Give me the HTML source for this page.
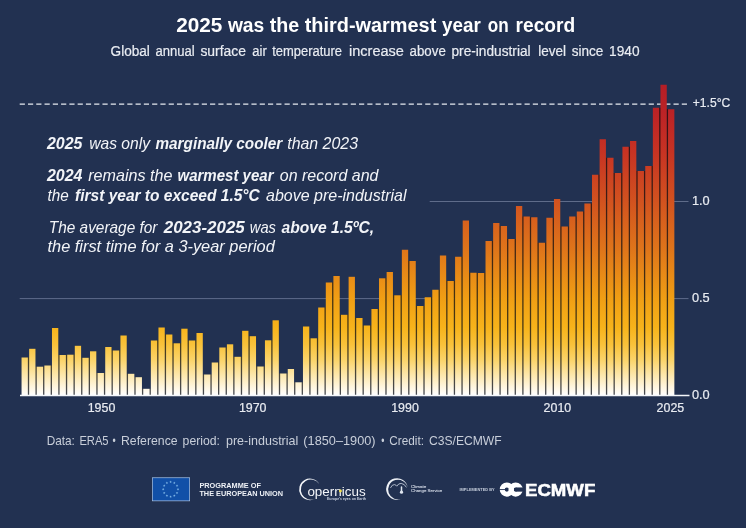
<!DOCTYPE html>
<html lang="en"><head><meta charset="utf-8"><title>2025 was the third-warmest year on record</title>
<style>html,body{margin:0;padding:0;background:#223151;}body{width:746px;height:528px;overflow:hidden;}svg{display:block;}text{font-family:"Liberation Sans",Arial,sans-serif;}.an{font-style:italic;font-size:16.2px;fill:#f2f4f8;}.b{font-weight:bold;}.ax{font-size:13.2px;fill:#e8ebf1;stroke:#e8ebf1;stroke-width:0.22px;}</style></head><body>
<svg width="746" height="528" viewBox="0 0 746 528">
<defs><linearGradient id="g" gradientUnits="userSpaceOnUse" x1="0" y1="395.00" x2="0" y2="80.88">
<stop offset="0.0000" stop-color="#ffffff"/>
<stop offset="0.0247" stop-color="#fff6e0"/>
<stop offset="0.0617" stop-color="#fde8ae"/>
<stop offset="0.1111" stop-color="#fbd46a"/>
<stop offset="0.1605" stop-color="#f9c23a"/>
<stop offset="0.2160" stop-color="#f7b31a"/>
<stop offset="0.3086" stop-color="#f09e14"/>
<stop offset="0.4630" stop-color="#df751a"/>
<stop offset="0.6173" stop-color="#d2521f"/>
<stop offset="0.7716" stop-color="#c73323"/>
<stop offset="0.8951" stop-color="#bc2326"/>
<stop offset="1.0000" stop-color="#b31d26"/>
</linearGradient>
<linearGradient id="gd" gradientUnits="userSpaceOnUse" x1="0" y1="395.00" x2="0" y2="80.88">
<stop offset="0.0000" stop-color="#494c51"/>
<stop offset="0.0247" stop-color="#494948"/>
<stop offset="0.0617" stop-color="#49453b"/>
<stop offset="0.1111" stop-color="#484028"/>
<stop offset="0.1605" stop-color="#483b1b"/>
<stop offset="0.2160" stop-color="#473713"/>
<stop offset="0.3086" stop-color="#453211"/>
<stop offset="0.4630" stop-color="#412613"/>
<stop offset="0.6173" stop-color="#3d1d14"/>
<stop offset="0.7716" stop-color="#3a1515"/>
<stop offset="0.8951" stop-color="#371016"/>
<stop offset="1.0000" stop-color="#350f16"/>
</linearGradient></defs>
<rect width="746" height="528" fill="#223151"/>
<g font-size="20.3" fill="#ffffff" font-weight="bold">
<text x="176.20" y="31.70" textLength="46.20" lengthAdjust="spacingAndGlyphs">2025</text>
<text x="227.90" y="31.70" textLength="36.40" lengthAdjust="spacingAndGlyphs">was</text>
<text x="269.70" y="31.70" textLength="29.50" lengthAdjust="spacingAndGlyphs">the</text>
<text x="304.70" y="31.70" textLength="131.60" lengthAdjust="spacingAndGlyphs">third-warmest</text>
<text x="442.00" y="31.70" textLength="38.70" lengthAdjust="spacingAndGlyphs">year</text>
<text x="487.70" y="31.70" textLength="20.90" lengthAdjust="spacingAndGlyphs">on</text>
<text x="515.60" y="31.70" textLength="59.60" lengthAdjust="spacingAndGlyphs">record</text>
</g>
<g font-size="14.9" fill="#e9ecf2" stroke="#e9ecf2" stroke-width="0.2">
<text x="110.60" y="55.50" textLength="39.30" lengthAdjust="spacingAndGlyphs">Global</text>
<text x="155.40" y="55.50" textLength="39.20" lengthAdjust="spacingAndGlyphs">annual</text>
<text x="200.40" y="55.50" textLength="45.70" lengthAdjust="spacingAndGlyphs">surface</text>
<text x="252.30" y="55.50" textLength="14.50" lengthAdjust="spacingAndGlyphs">air</text>
<text x="272.20" y="55.50" textLength="69.90" lengthAdjust="spacingAndGlyphs">temperature</text>
<text x="349.00" y="55.50" textLength="54.90" lengthAdjust="spacingAndGlyphs">increase</text>
<text x="409.60" y="55.50" textLength="36.20" lengthAdjust="spacingAndGlyphs">above</text>
<text x="451.50" y="55.50" textLength="79.10" lengthAdjust="spacingAndGlyphs">pre-industrial</text>
<text x="538.20" y="55.50" textLength="27.80" lengthAdjust="spacingAndGlyphs">level</text>
<text x="571.70" y="55.50" textLength="31.70" lengthAdjust="spacingAndGlyphs">since</text>
<text x="609.10" y="55.50" textLength="30.50" lengthAdjust="spacingAndGlyphs">1940</text>
</g>
<line x1="19.7" x2="688.5" y1="298.6" y2="298.6" stroke="#6f7b99" stroke-width="0.8"/>
<line x1="429.7" x2="688.5" y1="201.5" y2="201.5" stroke="#6f7b99" stroke-width="0.8"/>
<line x1="19.7" x2="687" y1="104.2" y2="104.2" stroke="#e6eaf0" stroke-width="1.3" stroke-dasharray="5.2 3.076"/>
<g fill="url(#gd)">
<rect x="27.31" y="357.50" width="2.4" height="37.50"/>
<rect x="34.91" y="366.70" width="2.4" height="28.30"/>
<rect x="42.52" y="366.70" width="2.4" height="28.30"/>
<rect x="50.12" y="365.50" width="2.4" height="29.50"/>
<rect x="57.73" y="355.00" width="2.4" height="40.00"/>
<rect x="65.34" y="355.00" width="2.4" height="40.00"/>
<rect x="72.94" y="354.70" width="2.4" height="40.30"/>
<rect x="80.55" y="357.80" width="2.4" height="37.20"/>
<rect x="88.15" y="357.80" width="2.4" height="37.20"/>
<rect x="95.76" y="373.00" width="2.4" height="22.00"/>
<rect x="103.37" y="373.00" width="2.4" height="22.00"/>
<rect x="110.97" y="350.50" width="2.4" height="44.50"/>
<rect x="118.58" y="350.50" width="2.4" height="44.50"/>
<rect x="126.18" y="373.80" width="2.4" height="21.20"/>
<rect x="133.79" y="377.20" width="2.4" height="17.80"/>
<rect x="141.40" y="388.80" width="2.4" height="6.20"/>
<rect x="149.00" y="388.80" width="2.4" height="6.20"/>
<rect x="156.61" y="340.50" width="2.4" height="54.50"/>
<rect x="164.21" y="334.50" width="2.4" height="60.50"/>
<rect x="171.82" y="343.30" width="2.4" height="51.70"/>
<rect x="179.43" y="343.30" width="2.4" height="51.70"/>
<rect x="187.03" y="340.50" width="2.4" height="54.50"/>
<rect x="194.64" y="340.50" width="2.4" height="54.50"/>
<rect x="202.24" y="374.50" width="2.4" height="20.50"/>
<rect x="209.85" y="374.50" width="2.4" height="20.50"/>
<rect x="217.46" y="362.50" width="2.4" height="32.50"/>
<rect x="225.06" y="347.50" width="2.4" height="47.50"/>
<rect x="232.67" y="356.80" width="2.4" height="38.20"/>
<rect x="240.27" y="356.80" width="2.4" height="38.20"/>
<rect x="247.88" y="336.20" width="2.4" height="58.80"/>
<rect x="255.49" y="366.50" width="2.4" height="28.50"/>
<rect x="263.09" y="366.50" width="2.4" height="28.50"/>
<rect x="270.70" y="340.30" width="2.4" height="54.70"/>
<rect x="278.30" y="373.50" width="2.4" height="21.50"/>
<rect x="285.91" y="373.50" width="2.4" height="21.50"/>
<rect x="293.52" y="382.30" width="2.4" height="12.70"/>
<rect x="301.12" y="382.30" width="2.4" height="12.70"/>
<rect x="308.73" y="338.30" width="2.4" height="56.70"/>
<rect x="316.33" y="338.30" width="2.4" height="56.70"/>
<rect x="323.94" y="307.50" width="2.4" height="87.50"/>
<rect x="331.55" y="282.50" width="2.4" height="112.50"/>
<rect x="339.15" y="314.80" width="2.4" height="80.20"/>
<rect x="346.76" y="314.80" width="2.4" height="80.20"/>
<rect x="354.36" y="318.00" width="2.4" height="77.00"/>
<rect x="361.97" y="325.50" width="2.4" height="69.50"/>
<rect x="369.58" y="325.50" width="2.4" height="69.50"/>
<rect x="377.18" y="309.00" width="2.4" height="86.00"/>
<rect x="384.79" y="278.30" width="2.4" height="116.70"/>
<rect x="392.39" y="295.30" width="2.4" height="99.70"/>
<rect x="400.00" y="295.30" width="2.4" height="99.70"/>
<rect x="407.61" y="261.00" width="2.4" height="134.00"/>
<rect x="415.21" y="306.00" width="2.4" height="89.00"/>
<rect x="422.82" y="306.00" width="2.4" height="89.00"/>
<rect x="430.42" y="297.25" width="2.4" height="97.75"/>
<rect x="438.03" y="289.75" width="2.4" height="105.25"/>
<rect x="445.64" y="281.00" width="2.4" height="114.00"/>
<rect x="453.24" y="281.00" width="2.4" height="114.00"/>
<rect x="460.85" y="256.75" width="2.4" height="138.25"/>
<rect x="468.45" y="272.75" width="2.4" height="122.25"/>
<rect x="476.06" y="273.00" width="2.4" height="122.00"/>
<rect x="483.67" y="273.00" width="2.4" height="122.00"/>
<rect x="491.27" y="241.00" width="2.4" height="154.00"/>
<rect x="498.88" y="226.00" width="2.4" height="169.00"/>
<rect x="506.48" y="239.00" width="2.4" height="156.00"/>
<rect x="514.09" y="239.00" width="2.4" height="156.00"/>
<rect x="521.70" y="216.50" width="2.4" height="178.50"/>
<rect x="529.30" y="217.25" width="2.4" height="177.75"/>
<rect x="536.91" y="242.75" width="2.4" height="152.25"/>
<rect x="544.51" y="242.75" width="2.4" height="152.25"/>
<rect x="552.12" y="217.75" width="2.4" height="177.25"/>
<rect x="559.73" y="226.50" width="2.4" height="168.50"/>
<rect x="567.33" y="226.50" width="2.4" height="168.50"/>
<rect x="574.94" y="216.50" width="2.4" height="178.50"/>
<rect x="582.54" y="211.50" width="2.4" height="183.50"/>
<rect x="590.15" y="203.50" width="2.4" height="191.50"/>
<rect x="597.76" y="174.75" width="2.4" height="220.25"/>
<rect x="605.36" y="157.75" width="2.4" height="237.25"/>
<rect x="612.97" y="173.00" width="2.4" height="222.00"/>
<rect x="620.57" y="173.00" width="2.4" height="222.00"/>
<rect x="628.18" y="146.75" width="2.4" height="248.25"/>
<rect x="635.79" y="171.00" width="2.4" height="224.00"/>
<rect x="643.39" y="171.00" width="2.4" height="224.00"/>
<rect x="651.00" y="166.00" width="2.4" height="229.00"/>
<rect x="658.60" y="107.75" width="2.4" height="287.25"/>
<rect x="666.21" y="109.25" width="2.4" height="285.75"/>
</g>
<g fill="url(#g)">
<rect x="21.55" y="357.50" width="6.30" height="37.50"/>
<rect x="29.16" y="348.80" width="6.30" height="46.20"/>
<rect x="36.76" y="366.70" width="6.30" height="28.30"/>
<rect x="44.37" y="365.50" width="6.30" height="29.50"/>
<rect x="51.98" y="328.00" width="6.30" height="67.00"/>
<rect x="59.58" y="355.00" width="6.30" height="40.00"/>
<rect x="67.19" y="354.70" width="6.30" height="40.30"/>
<rect x="74.80" y="345.80" width="6.30" height="49.20"/>
<rect x="82.40" y="357.80" width="6.30" height="37.20"/>
<rect x="90.01" y="351.30" width="6.30" height="43.70"/>
<rect x="97.61" y="373.00" width="6.30" height="22.00"/>
<rect x="105.22" y="347.00" width="6.30" height="48.00"/>
<rect x="112.83" y="350.50" width="6.30" height="44.50"/>
<rect x="120.43" y="335.50" width="6.30" height="59.50"/>
<rect x="128.04" y="373.80" width="6.30" height="21.20"/>
<rect x="135.64" y="377.20" width="6.30" height="17.80"/>
<rect x="143.25" y="388.80" width="6.30" height="6.20"/>
<rect x="150.85" y="340.50" width="6.30" height="54.50"/>
<rect x="158.46" y="327.50" width="6.30" height="67.50"/>
<rect x="166.07" y="334.50" width="6.30" height="60.50"/>
<rect x="173.67" y="343.30" width="6.30" height="51.70"/>
<rect x="181.28" y="328.70" width="6.30" height="66.30"/>
<rect x="188.88" y="340.50" width="6.30" height="54.50"/>
<rect x="196.49" y="333.00" width="6.30" height="62.00"/>
<rect x="204.10" y="374.50" width="6.30" height="20.50"/>
<rect x="211.70" y="362.50" width="6.30" height="32.50"/>
<rect x="219.31" y="347.50" width="6.30" height="47.50"/>
<rect x="226.91" y="344.30" width="6.30" height="50.70"/>
<rect x="234.52" y="356.80" width="6.30" height="38.20"/>
<rect x="242.13" y="330.80" width="6.30" height="64.20"/>
<rect x="249.73" y="336.20" width="6.30" height="58.80"/>
<rect x="257.34" y="366.50" width="6.30" height="28.50"/>
<rect x="264.94" y="340.30" width="6.30" height="54.70"/>
<rect x="272.55" y="320.30" width="6.30" height="74.70"/>
<rect x="280.16" y="373.50" width="6.30" height="21.50"/>
<rect x="287.76" y="369.00" width="6.30" height="26.00"/>
<rect x="295.37" y="382.30" width="6.30" height="12.70"/>
<rect x="302.97" y="326.50" width="6.30" height="68.50"/>
<rect x="310.58" y="338.30" width="6.30" height="56.70"/>
<rect x="318.19" y="307.50" width="6.30" height="87.50"/>
<rect x="325.79" y="282.50" width="6.30" height="112.50"/>
<rect x="333.40" y="276.00" width="6.30" height="119.00"/>
<rect x="341.00" y="314.80" width="6.30" height="80.20"/>
<rect x="348.61" y="276.80" width="6.30" height="118.20"/>
<rect x="356.22" y="318.00" width="6.30" height="77.00"/>
<rect x="363.82" y="325.50" width="6.30" height="69.50"/>
<rect x="371.43" y="309.00" width="6.30" height="86.00"/>
<rect x="379.03" y="278.30" width="6.30" height="116.70"/>
<rect x="386.64" y="272.00" width="6.30" height="123.00"/>
<rect x="394.25" y="295.30" width="6.30" height="99.70"/>
<rect x="401.85" y="249.75" width="6.30" height="145.25"/>
<rect x="409.46" y="261.00" width="6.30" height="134.00"/>
<rect x="417.06" y="306.00" width="6.30" height="89.00"/>
<rect x="424.67" y="297.25" width="6.30" height="97.75"/>
<rect x="432.28" y="289.75" width="6.30" height="105.25"/>
<rect x="439.88" y="255.50" width="6.30" height="139.50"/>
<rect x="447.49" y="281.00" width="6.30" height="114.00"/>
<rect x="455.09" y="256.75" width="6.30" height="138.25"/>
<rect x="462.70" y="220.50" width="6.30" height="174.50"/>
<rect x="470.31" y="272.75" width="6.30" height="122.25"/>
<rect x="477.91" y="273.00" width="6.30" height="122.00"/>
<rect x="485.52" y="241.00" width="6.30" height="154.00"/>
<rect x="493.12" y="223.00" width="6.30" height="172.00"/>
<rect x="500.73" y="226.00" width="6.30" height="169.00"/>
<rect x="508.34" y="239.00" width="6.30" height="156.00"/>
<rect x="515.94" y="206.00" width="6.30" height="189.00"/>
<rect x="523.55" y="216.50" width="6.30" height="178.50"/>
<rect x="531.15" y="217.25" width="6.30" height="177.75"/>
<rect x="538.76" y="242.75" width="6.30" height="152.25"/>
<rect x="546.37" y="217.75" width="6.30" height="177.25"/>
<rect x="553.97" y="199.00" width="6.30" height="196.00"/>
<rect x="561.58" y="226.50" width="6.30" height="168.50"/>
<rect x="569.18" y="216.50" width="6.30" height="178.50"/>
<rect x="576.79" y="211.50" width="6.30" height="183.50"/>
<rect x="584.40" y="203.50" width="6.30" height="191.50"/>
<rect x="592.00" y="174.75" width="6.30" height="220.25"/>
<rect x="599.61" y="139.25" width="6.30" height="255.75"/>
<rect x="607.22" y="157.75" width="6.30" height="237.25"/>
<rect x="614.82" y="173.00" width="6.30" height="222.00"/>
<rect x="622.43" y="146.75" width="6.30" height="248.25"/>
<rect x="630.03" y="141.00" width="6.30" height="254.00"/>
<rect x="637.64" y="171.00" width="6.30" height="224.00"/>
<rect x="645.25" y="166.00" width="6.30" height="229.00"/>
<rect x="652.85" y="107.75" width="6.30" height="287.25"/>
<rect x="660.46" y="84.75" width="6.30" height="310.25"/>
<rect x="668.06" y="109.25" width="6.30" height="285.75"/>
</g>
<line x1="20" x2="689.5" y1="395.5" y2="395.5" stroke="#f4f6fa" stroke-width="1.3"/>
<text class="ax" x="691.9" y="398.6" textLength="17.8" lengthAdjust="spacingAndGlyphs">0.0</text>
<text class="ax" x="691.9" y="301.5" textLength="17.8" lengthAdjust="spacingAndGlyphs">0.5</text>
<text class="ax" x="691.9" y="204.5" textLength="17.8" lengthAdjust="spacingAndGlyphs">1.0</text>
<text class="ax" x="692.8" y="107.4" fill="#ffffff" stroke="#ffffff" textLength="37.4" lengthAdjust="spacingAndGlyphs">+1.5°C</text>
<text class="ax" x="101.5" y="411.8" text-anchor="middle" textLength="27.6" lengthAdjust="spacingAndGlyphs">1950</text>
<text class="ax" x="252.7" y="411.8" text-anchor="middle" textLength="27.6" lengthAdjust="spacingAndGlyphs">1970</text>
<text class="ax" x="405.0" y="411.8" text-anchor="middle" textLength="27.6" lengthAdjust="spacingAndGlyphs">1990</text>
<text class="ax" x="557.4" y="411.8" text-anchor="middle" textLength="27.6" lengthAdjust="spacingAndGlyphs">2010</text>
<text class="ax" x="670.4" y="411.8" text-anchor="middle" textLength="27.6" lengthAdjust="spacingAndGlyphs">2025</text>
<text class="an b" x="47.00" y="148.50" textLength="35.50" lengthAdjust="spacingAndGlyphs">2025</text>
<text class="an" x="89.25" y="148.50" textLength="60.75" lengthAdjust="spacingAndGlyphs">was only</text>
<text class="an b" x="155.50" y="148.50" textLength="126.75" lengthAdjust="spacingAndGlyphs">marginally cooler</text>
<text class="an" x="287.25" y="148.50" textLength="70.75" lengthAdjust="spacingAndGlyphs">than 2023</text>
<text class="an b" x="47.00" y="180.50" textLength="35.50" lengthAdjust="spacingAndGlyphs">2024</text>
<text class="an" x="88.25" y="180.50" textLength="84.25" lengthAdjust="spacingAndGlyphs">remains the</text>
<text class="an b" x="177.50" y="180.50" textLength="96.00" lengthAdjust="spacingAndGlyphs">warmest year</text>
<text class="an" x="279.75" y="180.50" textLength="98.75" lengthAdjust="spacingAndGlyphs">on record and</text>
<text class="an" x="47.50" y="200.80" textLength="21.25" lengthAdjust="spacingAndGlyphs">the</text>
<text class="an b" x="75.00" y="200.80" textLength="184.75" lengthAdjust="spacingAndGlyphs">first year to exceed 1.5°C</text>
<text class="an" x="266.00" y="200.80" textLength="140.50" lengthAdjust="spacingAndGlyphs">above pre-industrial</text>
<text class="an" x="48.75" y="233.00" textLength="108.75" lengthAdjust="spacingAndGlyphs">The average for</text>
<text class="an b" x="163.75" y="233.00" textLength="81.00" lengthAdjust="spacingAndGlyphs">2023-2025</text>
<text class="an" x="249.75" y="233.00" textLength="26.25" lengthAdjust="spacingAndGlyphs">was</text>
<text class="an b" x="281.50" y="233.00" textLength="92.50" lengthAdjust="spacingAndGlyphs">above 1.5ºC,</text>
<text class="an" x="47.50" y="252.30" textLength="227.25" lengthAdjust="spacingAndGlyphs">the first time for a 3-year period</text>
<g font-size="13.1" fill="#c9cfda">
<text x="46.70" y="445.00" textLength="28.20" lengthAdjust="spacingAndGlyphs">Data:</text>
<text x="79.40" y="445.00" textLength="29.20" lengthAdjust="spacingAndGlyphs">ERA5</text>
<text x="112.40" y="445.00" textLength="3.20" lengthAdjust="spacingAndGlyphs">•</text>
<text x="121.00" y="445.00" textLength="56.60" lengthAdjust="spacingAndGlyphs">Reference</text>
<text x="182.60" y="445.00" textLength="37.40" lengthAdjust="spacingAndGlyphs">period:</text>
<text x="226.00" y="445.00" textLength="72.30" lengthAdjust="spacingAndGlyphs">pre-industrial</text>
<text x="303.30" y="445.00" textLength="72.30" lengthAdjust="spacingAndGlyphs">(1850–1900)</text>
<text x="381.20" y="445.00" textLength="3.20" lengthAdjust="spacingAndGlyphs">•</text>
<text x="389.30" y="445.00" textLength="34.70" lengthAdjust="spacingAndGlyphs">Credit:</text>
<text x="429.00" y="445.00" textLength="72.70" lengthAdjust="spacingAndGlyphs">C3S/ECMWF</text>
</g>
<rect x="152.35" y="477.75" width="37.3" height="23.1" fill="#1150a8" stroke="#a9c3e6" stroke-width="0.7"/>
<g fill="#86bdec"><polygon points="170.60,480.55 170.92,481.46 171.88,481.48 171.12,482.07 171.39,482.99 170.60,482.45 169.81,482.99 170.08,482.07 169.32,481.48 170.28,481.46"/><polygon points="174.30,481.54 174.62,482.45 175.58,482.47 174.82,483.06 175.09,483.98 174.30,483.44 173.51,483.98 173.78,483.06 173.02,482.47 173.98,482.45"/><polygon points="177.01,484.25 177.33,485.16 178.29,485.18 177.53,485.77 177.80,486.69 177.01,486.15 176.22,486.69 176.49,485.77 175.72,485.18 176.69,485.16"/><polygon points="178.00,487.95 178.32,488.86 179.28,488.88 178.52,489.47 178.79,490.39 178.00,489.85 177.21,490.39 177.48,489.47 176.72,488.88 177.68,488.86"/><polygon points="177.01,491.65 177.33,492.56 178.29,492.58 177.53,493.17 177.80,494.09 177.01,493.55 176.22,494.09 176.49,493.17 175.72,492.58 176.69,492.56"/><polygon points="174.30,494.36 174.62,495.26 175.58,495.29 174.82,495.88 175.09,496.80 174.30,496.26 173.51,496.80 173.78,495.88 173.02,495.29 173.98,495.26"/><polygon points="170.60,495.35 170.92,496.26 171.88,496.28 171.12,496.87 171.39,497.79 170.60,497.25 169.81,497.79 170.08,496.87 169.32,496.28 170.28,496.26"/><polygon points="166.90,494.36 167.22,495.26 168.18,495.29 167.42,495.88 167.69,496.80 166.90,496.26 166.11,496.80 166.38,495.88 165.62,495.29 166.58,495.26"/><polygon points="164.19,491.65 164.51,492.56 165.48,492.58 164.71,493.17 164.98,494.09 164.19,493.55 163.40,494.09 163.67,493.17 162.91,492.58 163.87,492.56"/><polygon points="163.20,487.95 163.52,488.86 164.48,488.88 163.72,489.47 163.99,490.39 163.20,489.85 162.41,490.39 162.68,489.47 161.92,488.88 162.88,488.86"/><polygon points="164.19,484.25 164.51,485.16 165.48,485.18 164.71,485.77 164.98,486.69 164.19,486.15 163.40,486.69 163.67,485.77 162.91,485.18 163.87,485.16"/><polygon points="166.90,481.54 167.22,482.45 168.18,482.47 167.42,483.06 167.69,483.98 166.90,483.44 166.11,483.98 166.38,483.06 165.62,482.47 166.58,482.45"/></g>
<text x="199.4" y="488.3" font-size="7.2" font-weight="bold" fill="#eef1f6" textLength="61.6" lengthAdjust="spacingAndGlyphs">PROGRAMME OF</text>
<text x="199.4" y="495.8" font-size="7.2" font-weight="bold" fill="#eef1f6" textLength="83.7" lengthAdjust="spacingAndGlyphs">THE EUROPEAN UNION</text>
<path fill="#f3f5f9" d="M319.24 484.07 A10.75 10.75 0 1 0 315.32 498.68 A10.04 10.04 0 1 1 319.24 484.07 Z"/>
<text x="307.4" y="496.1" font-size="13.3" fill="#f3f5f9" textLength="58.2" lengthAdjust="spacingAndGlyphs" style="font-weight:normal">opernicus</text>
<circle cx="340.4" cy="491.0" r="1.45" fill="#f2df4a"/>
<text x="327" y="499.7" font-size="3.6" font-weight="bold" fill="#c9d1e0" textLength="39" lengthAdjust="spacingAndGlyphs">Europe's eyes on Earth</text>
<path fill="#eef1f6" d="M407.69 487.55 A10.80 10.80 0 1 0 402.07 498.59 A9.87 9.87 0 1 1 407.69 487.55 Z"/>
<path fill="none" stroke="#cfd7e5" stroke-width="0.8" stroke-linecap="round" d="M390.6 487.6 Q392.2 484.2 394.6 484.6 Q396.2 485.0 396.8 486.2 Q398.4 483.2 401.2 483.4 Q404.6 483.8 406.2 487.0"/>
<line x1="401.5" y1="486.9" x2="401.5" y2="492" stroke="#dfe5ef" stroke-width="1.5" stroke-linecap="round"/>
<circle cx="401.5" cy="492.2" r="1.6" fill="#dfe5ef"/>
<text x="411.1" y="487.9" font-size="4.3" fill="#d0d7e4" stroke="#d0d7e4" stroke-width="0.12" textLength="15.2" lengthAdjust="spacingAndGlyphs">Climate</text>
<text x="411.1" y="492.3" font-size="4.3" fill="#d0d7e4" stroke="#d0d7e4" stroke-width="0.12" textLength="31.1" lengthAdjust="spacingAndGlyphs">Change Service</text>
<text x="459.5" y="490.6" font-size="3.9" font-weight="bold" fill="#c5cddb" textLength="35.2" lengthAdjust="spacingAndGlyphs">IMPLEMENTED BY</text>
<g fill="none" stroke="#ffffff" stroke-width="5"><circle cx="506.85" cy="489.55" r="4.65"/><circle cx="515.65" cy="489.55" r="4.65"/></g>
<rect x="515.8" y="487.45" width="8" height="4.2" fill="#223151"/>
<line x1="499" y1="489.55" x2="506.6" y2="489.55" stroke="#223151" stroke-width="0.9"/>
<text x="525" y="495.5" font-size="17" font-weight="bold" fill="#ffffff" stroke="#ffffff" stroke-width="0.55" textLength="70.3" lengthAdjust="spacingAndGlyphs">ECMWF</text>
</svg></body></html>
